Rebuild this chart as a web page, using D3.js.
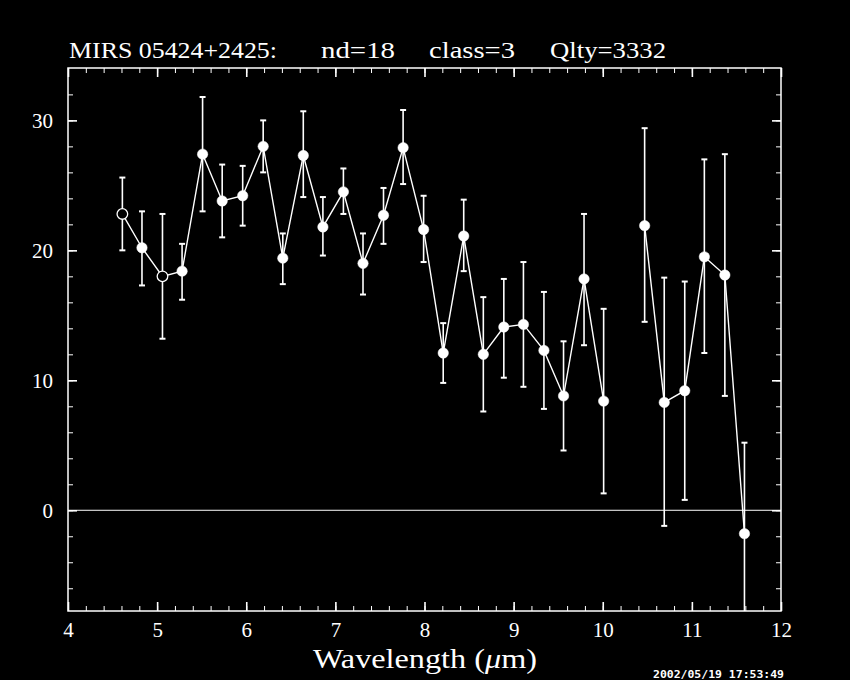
<!DOCTYPE html>
<html>
<head>
<meta charset="utf-8">
<script src="https://cdn.jsdelivr.net/npm/d3@7"></script>
<style>
  html, body { margin: 0; padding: 0; background: #000; }
  svg { display: block; }
</style>
</head>
<body>
<svg id="chart" width="850" height="680"></svg>
<script>
"use strict";

// spectrum points (null flux = gap in the spectrum)
const wavelength = [4.61, 4.83, 5.06, 5.28, 5.51, 5.73, 5.96, 6.19, 6.41, 6.64,
    6.86, 7.09, 7.31, 7.54, 7.76, 7.99, 8.21, 8.44, 8.66, 8.89,
    9.11, 9.34, 9.56, 9.79, 10.01, 10.24, 10.47, 10.69, 10.92, 11.14,
    11.37, 11.59];
const flux = [22.8, 20.2, 18.0, 18.4, 27.4, 23.8, 24.2, 28.0, 19.4, 27.3,
    21.8, 24.5, 19.0, 22.7, 27.9, 21.6, 12.1, 21.1, 12.0, 14.1,
    14.3, 12.3, 8.8, 17.8, 8.4, null, 21.9, 8.3, 9.2, 19.5,
    18.1, -1.8];
const errLow = [20.0, 17.3, 13.2, 16.2, 23.0, 21.0, 21.9, 26.0, 17.4, 24.1,
    19.6, 22.8, 16.6, 20.5, 25.1, 19.1, 9.8, 18.4, 7.6, 10.2,
    9.5, 7.8, 4.6, 12.7, 1.3, null, 14.5, -1.2, 0.8, 12.1,
    8.8, -8.8];
const errHigh = [25.6, 23.0, 22.8, 20.5, 31.8, 26.6, 26.5, 30.0, 21.3, 30.7,
    24.1, 26.3, 21.3, 24.8, 30.8, 24.2, 14.4, 23.9, 16.4, 17.8,
    19.1, 16.8, 13.0, 22.8, 15.5, null, 29.4, 17.9, 17.6, 27.0,
    27.4, 5.2];
const openMarker = [true, false, true];   // first points drawn as open circles

const xMajor = [4, 5, 6, 7, 8, 9, 10, 11, 12];
const yMajor = [0, 10, 20, 30];

const titleParts = [
    {text: "MIRS 05424+2425:", x: 69, len: 208},
    {text: "nd=18", x: 321, len: 74},
    {text: "class=3", x: 429, len: 86},
    {text: "Qlty=3332", x: 550, len: 116}
];
const stamp = "2002/05/19 17:53:49";

const points = wavelength.map((w, i) => ({
    w: w, f: flux[i], lo: errLow[i], hi: errHigh[i], open: !!openMarker[i]
}));

const margin = {left: 68, top: 68, right: 69, bottom: 69};
const svg = d3.select('#chart');
const width = +svg.attr('width') - margin.left - margin.right;
const height = +svg.attr('height') - margin.top - margin.bottom;
const serif = '"Liberation Serif", "DejaVu Serif", serif';

const x = d3.scaleLinear().domain([4, 12]).range([0, width]);
const y = d3.scaleLinear().domain([-7.75, 34.03]).range([height, 0]);

svg.append('rect').attr('width', 850).attr('height', 680).attr('fill', '#000');

const g = svg.append('g').attr('transform', `translate(${margin.left},${margin.top})`);

svg.append('defs').append('clipPath').attr('id', 'plotClip')
    .append('rect').attr('width', width).attr('height', height);

// minor ticks on all four sides
const xMinor = d3.range(4, 12.001, 0.2);
const yMinor = d3.range(-6, 34, 2);
const addAxis = (axis, tx, ty) => {
    const a = g.append('g').attr('transform', `translate(${tx},${ty})`).call(axis);
    a.select('.domain').remove();
    a.selectAll('line').attr('stroke', '#fff');
    return a;
};
addAxis(d3.axisBottom(x).tickValues(xMinor).tickSize(-5).tickFormat(''), 0, height);
addAxis(d3.axisTop(x).tickValues(xMinor).tickSize(-5).tickFormat(''), 0, 0);
addAxis(d3.axisLeft(y).tickValues(yMinor).tickSize(-5).tickFormat(''), 0, 0);
addAxis(d3.axisRight(y).tickValues(yMinor).tickSize(-5).tickFormat(''), width, 0);
g.selectAll('.tick line').attr('stroke-width', 1);

// major ticks
const bottomAxis = addAxis(d3.axisBottom(x).tickValues(xMajor).tickSize(-9).tickPadding(11)
    .tickFormat(d3.format('d')), 0, height);
const topAxis = addAxis(d3.axisTop(x).tickValues(xMajor).tickSize(-9).tickFormat(''), 0, 0);
const leftAxis = addAxis(d3.axisLeft(y).tickValues(yMajor).tickSize(-9).tickPadding(15)
    .tickFormat(d3.format('d')), 0, 0);
const rightAxis = addAxis(d3.axisRight(y).tickValues(yMajor).tickSize(-9).tickFormat(''), width, 0);
[bottomAxis, topAxis, leftAxis, rightAxis].forEach(a => a.selectAll('line').attr('stroke-width', 1.6));

[bottomAxis, leftAxis].forEach(a => a.selectAll('text')
    .attr('fill', '#fff')
    .style('font-family', serif)
    .style('font-size', '21px'));

// frame
g.append('rect')
    .attr('width', width).attr('height', height)
    .attr('fill', 'none').attr('stroke', '#fff').attr('stroke-width', 1.5);

// zero line
g.append('line')
    .attr('x1', 0).attr('x2', width)
    .attr('y1', y(0)).attr('y2', y(0))
    .attr('stroke', '#fff').attr('stroke-width', 1);

const plot = g.append('g').attr('clip-path', 'url(#plotClip)');
const valid = points.filter(p => p.f !== null);

// error bars
const bars = plot.selectAll('.err').data(valid).enter().append('g').classed('err', true);
bars.append('line')
    .attr('x1', p => x(p.w)).attr('x2', p => x(p.w))
    .attr('y1', p => y(p.lo)).attr('y2', p => y(p.hi))
    .attr('stroke', '#fff').attr('stroke-width', 1.6);
['lo', 'hi'].forEach(k => {
    bars.append('line')
        .attr('x1', p => x(p.w) - 3).attr('x2', p => x(p.w) + 3)
        .attr('y1', p => y(p[k])).attr('y2', p => y(p[k]))
        .attr('stroke', '#fff').attr('stroke-width', 2);
});

// connecting line
const line = d3.line()
    .defined(p => p.f !== null)
    .x(p => x(p.w))
    .y(p => y(p.f));
plot.append('path')
    .datum(points)
    .attr('d', line)
    .attr('fill', 'none')
    .attr('stroke', '#fff')
    .attr('stroke-width', 1.4);

// markers
plot.selectAll('.pt').data(valid).enter().append('circle')
    .classed('pt', true)
    .attr('cx', p => x(p.w)).attr('cy', p => y(p.f))
    .attr('r', p => p.open ? 5.3 : 5.2)
    .attr('fill', p => p.open ? '#000' : '#fff')
    .attr('stroke', '#fff')
    .attr('stroke-width', p => p.open ? 1.3 : 0.5);

// title
svg.selectAll('.title').data(titleParts).enter().append('text')
    .classed('title', true)
    .attr('x', d => d.x).attr('y', 58)
    .attr('textLength', d => d.len)
    .attr('lengthAdjust', 'spacingAndGlyphs')
    .attr('fill', '#fff')
    .style('font-family', serif)
    .style('font-size', '24px')
    .text(d => d.text);

// x axis label
const xLabel = svg.append('text')
    .attr('x', 313).attr('y', 668)
    .attr('textLength', 224)
    .attr('lengthAdjust', 'spacingAndGlyphs')
    .attr('fill', '#fff')
    .style('font-family', serif)
    .style('font-size', '27px');
xLabel.append('tspan').text('Wavelength (');
xLabel.append('tspan').style('font-style', 'italic').text('\u03bc');
xLabel.append('tspan').text('m)');

// time stamp (kept just inside the bottom edge)
svg.append('text')
    .attr('x', 653).attr('y', 678)
    .attr('textLength', 131)
    .attr('lengthAdjust', 'spacingAndGlyphs')
    .attr('fill', '#fff')
    .style('font-family', '"DejaVu Sans Mono", monospace')
    .style('font-weight', 'bold')
    .style('font-size', '10.5px')
    .text(stamp);
</script>
</body>
</html>
